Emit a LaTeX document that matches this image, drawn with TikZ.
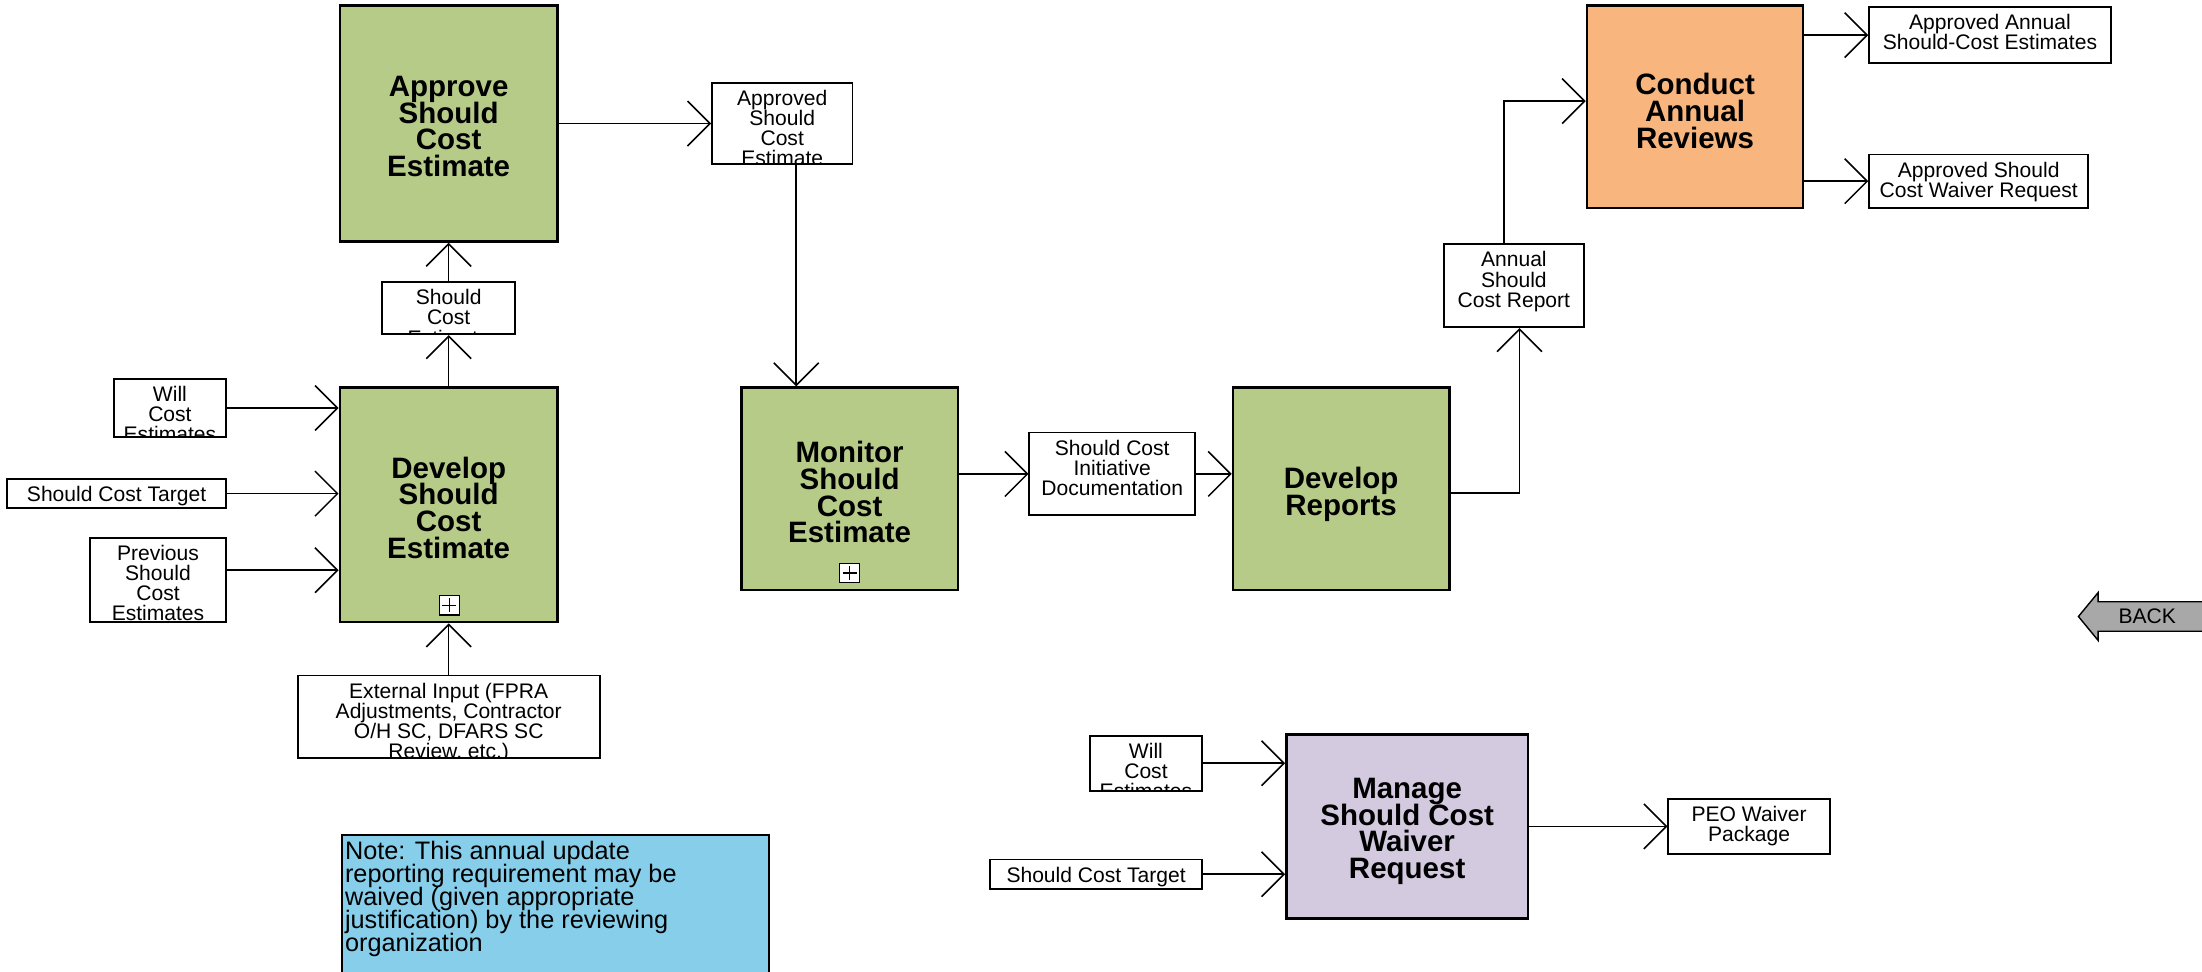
\documentclass[tikz,border=0pt]{standalone}
\usepackage{fontspec}
\setmainfont{Liberation Sans}
\usetikzlibrary{arrows.meta}
\definecolor{procgreen}{RGB}{183,203,137}
\definecolor{procorange}{RGB}{248,182,126}
\definecolor{procpurple}{RGB}{211,202,223}
\definecolor{noteblue}{RGB}{135,206,235}
\definecolor{backgray}{RGB}{168,168,168}
\newcommand\mytitlefont{\fontsize{21}{19}\selectfont\bfseries\lineskiplimit=-30pt}
\newcommand\mydatafont{\fontsize{15}{14.3}\selectfont\lineskiplimit=-30pt}
\newcommand\mynotefont{\fontsize{18}{16.5}\selectfont\lineskiplimit=-30pt}
\tikzset{
  proc/.style={draw, line width=1.8pt, inner sep=0pt},
  ttl/.style={inner sep=0pt, align=center, font=\mytitlefont},
  dat/.style={draw, line width=1.3pt, fill=white, inner sep=0pt,
    path picture={\node[anchor=north, align=center, inner sep=0pt, minimum width=0pt, minimum height=0pt, font=\mydatafont]
      at ([yshift=-4.6pt]path picture bounding box.north) {#1};}},
  arr/.style={line width=1.1pt, -{Straight Barb[length=16pt,width=32pt]}},
  plusbox/.style={draw, line width=0.9pt, fill=white, minimum size=14pt, inner sep=0pt}
}
\begin{document}
\begin{tikzpicture}[x=1pt,y=-1pt]
\useasboundingbox (0,0) rectangle (1568,692);
\clip (0,0) rectangle (1568,692);
% process boxes
\node[proc, fill=procgreen, minimum width=155pt, minimum height=168pt] (apr) at (319.5,88) {};
\node[ttl] (aprt) at ([yshift=-2pt]apr.center) {Approve\\Should\\Cost\\Estimate};
\node[proc, fill=procgreen, minimum width=155pt, minimum height=167pt] (dev) at (319.5,359.5) {};
\node[ttl] (devt) at ([yshift=-2pt]dev.center) {Develop\\Should\\Cost\\Estimate};
\node[proc, fill=procgreen, minimum width=154pt, minimum height=144pt] (mon) at (605,348) {};
\node[ttl] (mont) at ([yshift=-2.5pt]mon.center) {Monitor\\Should\\Cost\\Estimate};
\node[proc, fill=procgreen, minimum width=154pt, minimum height=144pt] (rep) at (955,348) {};
\node[ttl] (rept) at ([yshift=-4pt]rep.center) {Develop\\Reports};
\node[proc, fill=procorange, minimum width=154pt, minimum height=144pt] (con) at (1207,76) {};
\node[ttl] (cont) at ([yshift=-3pt]con.center) {Conduct\\Annual\\Reviews};
\node[proc, fill=procpurple, minimum width=172pt, minimum height=131pt] (man) at (1002,588.5) {};
\node[ttl] (mant) at ([yshift=-3.5pt]man.center) {Manage\\Should Cost\\Waiver\\Request};
% plus boxes
\node[plusbox] (devplus) at (320,431) {};
\draw[line width=0.9pt] ([yshift=5pt]devplus.center) -- ([yshift=-5pt]devplus.center);
\draw[line width=0.9pt] ([xshift=-5pt]devplus.center) -- ([xshift=5pt]devplus.center);
\node[plusbox] (monplus) at (605,408) {};
\draw[line width=0.9pt] ([yshift=5pt]monplus.center) -- ([yshift=-5pt]monplus.center);
\draw[line width=0.9pt] ([xshift=-5pt]monplus.center) -- ([xshift=5pt]monplus.center);
% data boxes
\node[dat={Should\\Cost\\Estimate}, minimum width=95pt, minimum height=37pt] (sce) at (319.5,219.5) {};
\node[dat={Will\\Cost\\Estimates}, minimum width=80pt, minimum height=41pt] (wce1) at (121,290.5) {};
\node[dat={Should Cost Target}, minimum width=156pt, minimum height=21pt] (sct1) at (83,351.5) {};
\node[dat={Previous\\Should\\Cost\\Estimates}, minimum width=97pt, minimum height=60pt] (prev) at (112.5,413) {};
\node[dat={{External Input (FPRA\\Adjustments, Contractor\\O/H SC, DFARS SC\\Review, etc.)}}, minimum width=215pt, minimum height=59pt] (ext) at (319.5,510.5) {};
\node[dat={Approved\\Should\\Cost\\Estimate}, minimum width=100pt, minimum height=58pt] (asce) at (557,88) {};
\node[dat={Should Cost\\Initiative\\Documentation}, minimum width=118pt, minimum height=59pt] (scid) at (792,337.5) {};
\node[dat={Annual\\Should\\Cost Report}, minimum width=100pt, minimum height=59pt] (ascr) at (1078,203.5) {};
\node[dat={Approved Annual\\Should-Cost Estimates}, minimum width=172pt, minimum height=40pt] (aase) at (1417,25) {};
\node[dat={Approved Should\\Cost Waiver Request}, minimum width=156pt, minimum height=38pt] (ascw) at (1409,129) {};
\node[dat={Will\\Cost\\Estimates}, minimum width=80pt, minimum height=39pt] (wce2) at (816,543.5) {};
\node[dat={Should Cost Target}, minimum width=151pt, minimum height=21pt] (sct2) at (780.5,622.5) {};
\node[dat={PEO Waiver\\Package}, minimum width=115pt, minimum height=39pt] (peo) at (1245.5,588.5) {};
% connectors
\draw[arr] (dev.north) -- (sce.south);
\draw[arr] (sce.north) -- (apr.south);
\draw[arr] (wce1.east) -- (wce1.east -| dev.west);
\draw[arr] (sct1.east) -- (sct1.east -| dev.west);
\draw[arr] (prev.east |- 0,406) -- (dev.west |- 0,406);
\draw[arr] (ext.north) -- (dev.south);
\draw[arr] (apr.east) -- (asce.west);
\draw[arr] (asce.south -| 567,0) -- (mon.north -| 567,0);
\draw[arr] (mon.east |- scid.west) -- (scid.west);
\draw[arr] (scid.east) -- (scid.east -| rep.west);
\draw[arr] (rep.east |- 0,351) -| (ascr.south -| 1082,0);
\draw[arr] (ascr.north -| 1071,0) |- (con.west |- 0,72);
\draw[arr] (con.east |- aase.west) -- (aase.west);
\draw[arr] (con.east |- ascw.west) -- (ascw.west);
\draw[arr] (wce2.east) -- (wce2.east -| man.west);
\draw[arr] (sct2.east) -- (sct2.east -| man.west);
\draw[arr] (man.east |- peo.west) -- (peo.west);
% note
\node[draw, line width=1.4pt, fill=noteblue, minimum width=304pt, minimum height=110pt, anchor=north west, inner sep=0pt] (notebox) at (243,594) {};
\node[anchor=north west, align=left, inner sep=0pt, font=\mynotefont] (notetext) at (245.5,598.5) {Note: This annual update\\reporting requirement may be\\waived (given appropriate\\justification) by the reviewing\\organization};
% back button
\draw[line width=1pt, fill=backgray] (1570,428.5) -- (1494,428.5) -- (1494,422) -- (1480,439) -- (1494,456) -- (1494,449.5) -- (1570,449.5) -- cycle;
\node[font=\mydatafont, inner sep=0pt] (back) at (1529,439) {BACK};
\end{tikzpicture}
\end{document}
